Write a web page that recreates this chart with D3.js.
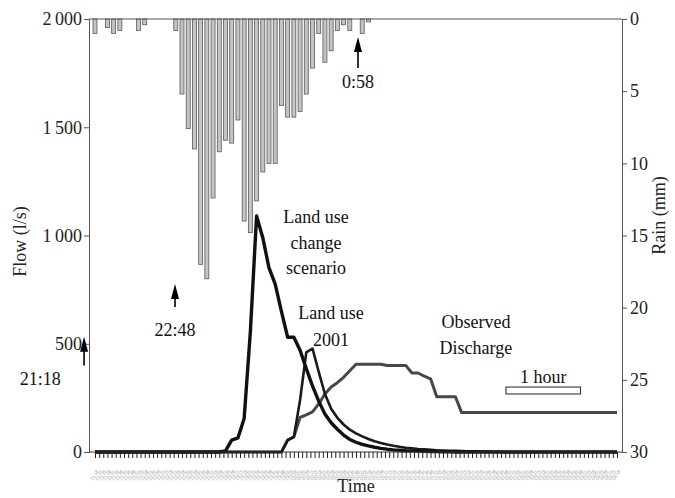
<!DOCTYPE html>
<html>
<head>
<meta charset="utf-8">
<script src="https://cdnjs.cloudflare.com/ajax/libs/d3/7.8.5/d3.min.js"></script>
<style>
  html, body { margin: 0; padding: 0; background: #fff; }
</style>
</head>
<body>
<div id="chart"></div>
<script>
// time step of the series, minutes (t = 0 is 21:18)
const stepMin = 5
const startHour = 21, startMinute = 18

// rain per 5 min step, mm
const rain = [1.0, 0, 0.6, 1.0, 0.8, 0, 0, 0.8, 0.4, 0, 0, 0, 0, 0.8, 5.2, 7.6, 9.0, 17.0, 18.0, 12.4,
  9.2, 8.4, 8.6, 7.0, 14.0, 14.8, 12.6, 10.6, 10.0, 10.0, 6.0, 6.8, 6.8, 6.4, 5.2, 3.4, 1.0, 3.0, 2.2, 0.8,
  0.4, 0.8, 0, 1.0, 0.2]

// flow, l/s
const scenario = [0, 0, 0, 0, 0, 0, 0, 0, 0, 0, 0, 0, 0, 0, 0, 0, 0, 0, 0, 0,
  0, 5, 55, 65, 155, 555, 1090, 990, 850, 775, 650, 530, 530, 470, 385, 305, 235, 175, 135, 105,
  78, 58, 45, 35, 28, 22, 17, 13, 10, 8, 6, 5, 4, 3, 2, 2, 1, 1, 0, 0,
  0, 0, 0, 0, 0, 0, 0, 0, 0, 0, 0, 0, 0, 0, 0, 0, 0, 0, 0, 0,
  0, 0, 0, 0, 0]
const landUse2001 = [0, 0, 0, 0, 0, 0, 0, 0, 0, 0, 0, 0, 0, 0, 0, 0, 0, 0, 0, 0,
  0, 0, 0, 0, 0, 0, 0, 0, 0, 0, 0, 55, 70, 240, 460, 478, 370, 268, 200, 158,
  127, 103, 86, 72, 60, 50, 42, 35, 29, 24, 20, 17, 14, 12, 10, 8, 7, 6, 5, 4,
  3, 3, 2, 2, 1, 1, 0, 0, 0, 0, 0, 0, 0, 0, 0, 0, 0, 0, 0, 0,
  0, 0, 0, 0, 0]
const observed = [0, 0, 0, 0, 0, 0, 0, 0, 0, 0, 0, 0, 0, 0, 0, 0, 0, 0, 0, 0,
  0, 0, 0, 0, 0, 0, 0, 0, 0, 0, 0, 55, 70, 160, 172, 185, 222, 268, 300, 320,
  345, 375, 405, 405, 405, 405, 405, 400, 400, 400, 400, 365, 365, 350, 338, 255, 255, 255, 255, 182,
  182, 182, 182, 182, 182, 182, 182, 182, 182, 182, 182, 182, 182, 182, 182, 182, 182, 182, 182, 182,
  182, 182, 182, 182, 182]

const flowTicks = [0, 500, 1000, 1500, 2000]
const rainTicks = [0, 5, 10, 15, 20, 25, 30]

// annotations, in data units (minutes, l/s)
const arrows = [
  { label: '21:18', t: -8.8, head: 532, tail: 400, labelT: -44, labelFlow: 308 },
  { label: '22:48', t: 64.4, head: 776, tail: 670, labelT: 64.4, labelFlow: 536 },
  { label: '0:58', t: 211.6, head: 1917, tail: 1774, labelT: 211.6, labelFlow: 1681 }
]
const notes = [
  { lines: ['Land use', 'change', 'scenario'], t: 177.8, flows: [1058, 938, 822] },
  { lines: ['Land use', '2001'], t: 189.9, flows: [614, 490] },
  { lines: ['Observed', 'Discharge'], t: 306.5, flows: [573, 453] },
  { lines: ['1 hour'], t: 360.7, flows: [319] }
]
const hourBox = { t: 330.7, minutes: 60, top: 300, bottom: 268 }

const serif = "'Liberation Serif', 'Times New Roman', 'DejaVu Serif', serif"
const width = 675, height = 498
const plot = { left: 89, right: 622, top: 19, bottom: 452 }

const svg = d3.select('#chart').append('svg')
  .attr('width', width)
  .attr('height', height)
  .style('display', 'block')
  .attr('font-family', serif)

const x = d3.scaleLinear().domain([0, 420]).range([95, 617])
const yFlow = d3.scaleLinear().domain([0, 2000]).range([plot.bottom, plot.top])
const yRain = d3.scaleLinear().domain([0, 30]).range([plot.top, plot.bottom])

const stepPx = x(stepMin) - x(0)
const timeLabel = t => {
  const m = Math.round(startHour * 60 + startMinute + t) % 1440
  return d3.format('02')(Math.floor(m / 60)) + ':' + d3.format('02')(m % 60)
}

// rain bars hanging from the top
svg.append('g')
  .selectAll('rect')
  .data(rain)
  .join('rect')
  .attr('x', (d, i) => x(i * stepMin) - stepPx * 0.32)
  .attr('y', yRain(0))
  .attr('width', stepPx * 0.64)
  .attr('height', d => yRain(d) - yRain(0))
  .attr('fill', '#c4c4c4')
  .attr('stroke', '#5a5a5a')
  .attr('stroke-width', 0.8)
  .attr('display', d => d > 0 ? null : 'none')

// flow lines
const line = d3.line()
  .x((d, i) => x(i * stepMin))
  .y(d => yFlow(d))

const series = [
  { values: observed, color: '#474747', width: 3 },
  { values: landUse2001, color: '#1a1a1a', width: 2.6 },
  { values: scenario, color: '#111', width: 3.4 }
]
svg.append('g')
  .selectAll('path')
  .data(series)
  .join('path')
  .attr('d', d => line(d.values))
  .attr('fill', 'none')
  .attr('stroke', d => d.color)
  .attr('stroke-width', d => d.width)
  .attr('stroke-linejoin', 'round')

// frame
svg.append('line')
  .attr('x1', plot.left).attr('x2', plot.right).attr('y1', plot.top).attr('y2', plot.top)
  .attr('stroke', '#555').attr('stroke-width', 1)
svg.append('line')
  .attr('x1', plot.left).attr('x2', plot.right).attr('y1', plot.bottom).attr('y2', plot.bottom)
  .attr('stroke', '#333').attr('stroke-width', 1)

const fmtFlow = d => d3.format(',')(d).replace(',', '\u2009')

const gLeft = svg.append('g')
  .attr('transform', `translate(${plot.left},0)`)
  .call(d3.axisLeft(yFlow).tickValues(flowTicks).tickSize(5).tickFormat(fmtFlow))
const gRight = svg.append('g')
  .attr('transform', `translate(${plot.right},0)`)
  .call(d3.axisRight(yRain).tickValues(rainTicks).tickSize(5))

;[gLeft, gRight].forEach(g => {
  g.attr('font-family', serif).attr('font-size', 18)
  g.select('.domain').attr('stroke', '#555')
  g.selectAll('.tick line').attr('stroke', '#555')
  g.selectAll('.tick text').attr('fill', '#222')
})
gLeft.selectAll('.tick text').attr('x', -7)
gRight.selectAll('.tick text').attr('x', 8)

// time axis with the tiny rotated labels
const timeTicks = d3.range(0, 420.01, 10 / 3)
const gBottom = svg.append('g')
  .attr('transform', `translate(0,${plot.bottom})`)
  .call(d3.axisBottom(x).tickValues(timeTicks).tickSize(6).tickSizeOuter(0).tickFormat(timeLabel))
gBottom.attr('font-family', "'Liberation Sans', sans-serif").attr('font-size', 4.5)
gBottom.select('.domain').remove()
gBottom.selectAll('.tick line').attr('stroke', '#222').attr('stroke-width', 1)
gBottom.selectAll('.tick text')
  .attr('fill', '#a0a0a0')
  .attr('text-anchor', 'end')
  .attr('transform', 'translate(3,19) rotate(-60)')
  .attr('y', 0)
  .attr('dy', 0)

// axis titles
svg.append('text')
  .attr('transform', `translate(26,${(plot.top + plot.bottom) / 2 + 6}) rotate(-90)`)
  .attr('text-anchor', 'middle')
  .attr('font-size', 18)
  .attr('fill', '#222')
  .text('Flow (l/s)')
svg.append('text')
  .attr('transform', `translate(665,${(plot.top + plot.bottom) / 2 - 20}) rotate(-90)`)
  .attr('text-anchor', 'middle')
  .attr('font-size', 18)
  .attr('fill', '#222')
  .text('Rain (mm)')
svg.append('text')
  .attr('x', 356)
  .attr('y', 492)
  .attr('text-anchor', 'middle')
  .attr('font-size', 18)
  .attr('fill', '#222')
  .text('Time')

// arrows
const gArrows = svg.append('g')
arrows.forEach(a => {
  const ax = x(a.t), yHead = yFlow(a.head), yTail = yFlow(a.tail)
  gArrows.append('line')
    .attr('x1', ax).attr('x2', ax)
    .attr('y1', yTail).attr('y2', yHead + 8)
    .attr('stroke', '#000').attr('stroke-width', 1.6)
  gArrows.append('path')
    .attr('d', `M${ax},${yHead}L${ax - 4},${yHead + 15}L${ax + 4},${yHead + 15}Z`)
    .attr('fill', '#000')
  gArrows.append('text')
    .attr('x', x(a.labelT))
    .attr('y', yFlow(a.labelFlow))
    .attr('text-anchor', 'middle')
    .attr('font-size', 18)
    .attr('fill', '#111')
    .text(a.label)
})

// series notes
notes.forEach(n => {
  n.lines.forEach((s, i) => {
    svg.append('text')
      .attr('x', x(n.t))
      .attr('y', yFlow(n.flows[i]))
      .attr('text-anchor', 'middle')
      .attr('font-size', 18)
      .attr('fill', '#111')
      .text(s)
  })
})

// 1 hour scale box
svg.append('rect')
  .attr('x', x(hourBox.t))
  .attr('y', yFlow(hourBox.top))
  .attr('width', x(hourBox.t + hourBox.minutes) - x(hourBox.t))
  .attr('height', yFlow(hourBox.bottom) - yFlow(hourBox.top))
  .attr('fill', '#fff')
  .attr('stroke', '#222')
  .attr('stroke-width', 1)
</script>
</body>
</html>
